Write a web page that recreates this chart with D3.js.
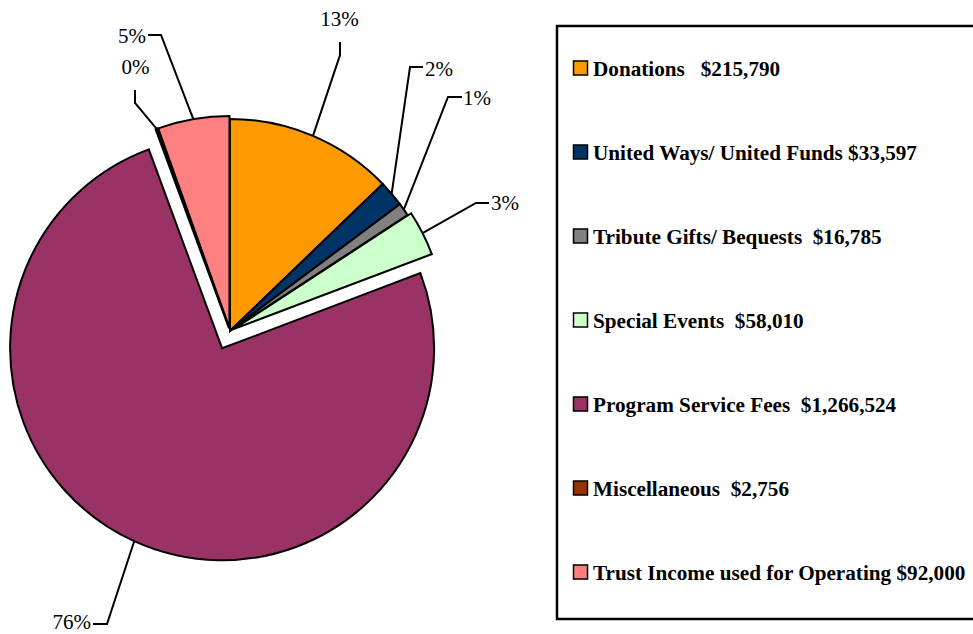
<!DOCTYPE html>
<html>
<head>
<meta charset="utf-8">
<script src="https://cdn.jsdelivr.net/npm/d3@7"></script>
<style>
  body { margin: 0; background: #fff; }
  svg { display: block; }
</style>
</head>
<body>
<div id="wrapper"></div>
<script>
// data
const categories = [
    "Donations", "United Ways/ United Funds", "Tribute Gifts/ Bequests",
    "Special Events", "Program Service Fees", "Miscellaneous",
    "Trust Income used for Operating"
];
const amounts = [215790, 33597, 16785, 58010, 1266524, 2756, 92000];
const legendLabels = [
    "Donations   $215,790",
    "United Ways/ United Funds $33,597",
    "Tribute Gifts/ Bequests  $16,785",
    "Special Events  $58,010",
    "Program Service Fees  $1,266,524",
    "Miscellaneous  $2,756",
    "Trust Income used for Operating $92,000"
];
const percentLabels = ["13%", "2%", "1%", "3%", "76%", "0%", "5%"];
const colors = ["#FF9900", "#003366", "#808080", "#CCFFCC", "#993366", "#993300", "#FF8080"];

// layout
const width = 973, height = 634;
const center = { x: 230, y: 331 };
const radius = 212;
const explode = [0, 0, 0, 4, 19, 3, 3];
// leader line elbow / end points and label text anchors
const labelLayout = [
    { elbow: [340, 55], end: [340, 42], tx: 339.5, ty: 26, anchor: "middle" },
    { elbow: [410, 67], end: [423, 67], tx: 425, ty: 76, anchor: "start" },
    { elbow: [448, 97], end: [462, 97], tx: 463, ty: 105, anchor: "start" },
    { elbow: [476, 203], end: [489, 203], tx: 491, ty: 210, anchor: "start" },
    { elbow: [107, 624], end: [93, 624], tx: 91, ty: 629, anchor: "end" },
    { elbow: [135, 103], end: [135, 90], tx: 135.5, ty: 74, anchor: "middle" },
    { elbow: [161, 35], end: [148, 35], tx: 146, ty: 43, anchor: "end" }
];

const svg = d3.select("#wrapper")
    .append("svg")
    .attr("width", width)
    .attr("height", height);

const pie = d3.pie().sort(null).value(d => d);
const arcs = pie(amounts);
const arc = d3.arc().innerRadius(0).outerRadius(radius);

const shift = (d, i) => {
    const mid = (d.startAngle + d.endAngle) / 2;
    return [Math.sin(mid) * explode[i], -Math.cos(mid) * explode[i]];
};

const pieG = svg.append("g")
    .attr("transform", `translate(${center.x},${center.y})`);

pieG.selectAll("path")
    .data(arcs)
    .enter().append("path")
    .attr("transform", (d, i) => `translate(${shift(d, i)})`)
    .attr("d", arc)
    .attr("fill", (d, i) => colors[i])
    .attr("stroke", "#000")
    .attr("stroke-width", 2)
    .attr("stroke-linejoin", "miter");

// leader lines + percent labels
const line = d3.line();
arcs.forEach((d, i) => {
    const mid = (d.startAngle + d.endAngle) / 2;
    const [dx, dy] = shift(d, i);
    const p0 = [center.x + dx + Math.sin(mid) * radius, center.y + dy - Math.cos(mid) * radius];
    const L = labelLayout[i];
    svg.append("path")
        .attr("d", line([p0, L.elbow, L.end]))
        .attr("fill", "none")
        .attr("stroke", "#000")
        .attr("stroke-width", 2);
    svg.append("text")
        .attr("x", L.tx)
        .attr("y", L.ty)
        .attr("text-anchor", L.anchor)
        .style("font-family", "'Liberation Serif', 'Times New Roman', serif")
        .style("font-size", "21px")
        .text(percentLabels[i]);
});

// legend
const legend = svg.append("g");
legend.append("rect")
    .attr("x", 557)
    .attr("y", 26)
    .attr("width", 430)
    .attr("height", 593)
    .attr("fill", "#fff")
    .attr("stroke", "#000")
    .attr("stroke-width", 2.5);

const rowY = d3.scalePoint()
    .domain(categories)
    .range([68, 572]);

const rows = legend.selectAll("g.row")
    .data(categories)
    .enter().append("g")
    .attr("class", "row")
    .attr("transform", d => `translate(573,${rowY(d)})`);

rows.append("rect")
    .attr("x", 0.5)
    .attr("y", -7)
    .attr("width", 14)
    .attr("height", 14)
    .attr("fill", (d, i) => colors[i])
    .attr("stroke", "#000")
    .attr("stroke-width", 1.5);

rows.append("text")
    .attr("x", 20)
    .attr("y", 8)
    .attr("xml:space", "preserve")
    .style("white-space", "pre")
    .style("font-family", "'Liberation Serif', 'Times New Roman', serif")
    .style("font-weight", "bold")
    .style("font-size", "21.2px")
    .text((d, i) => legendLabels[i]);
</script>
</body>
</html>
